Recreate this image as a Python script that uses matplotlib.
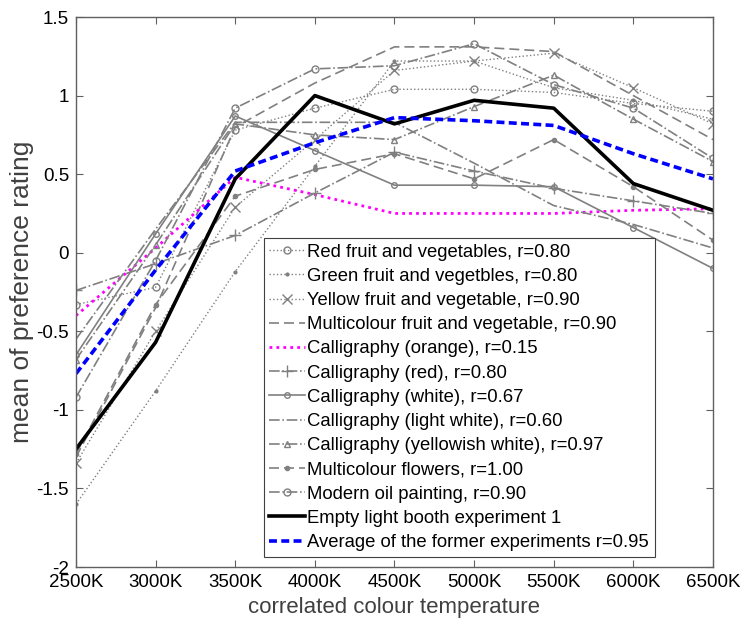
import matplotlib
matplotlib.use('Agg')
import matplotlib.pyplot as plt
import numpy as np

plt.rcParams['font.family'] = ['Liberation Sans', 'DejaVu Sans']

# colour temperatures (K)
cct = [2500, 3000, 3500, 4000, 4500, 5000, 5500, 6000, 6500]
tick_labels = ['2500K', '3000K', '3500K', '4000K', '4500K', '5000K', '5500K', '6000K', '6500K']

# mean preference ratings per experiment
red_fruit = [-0.33, -0.22, 0.78, 0.92, 1.04, 1.04, 1.02, 0.95, 0.90]
green_fruit = [-1.60, -0.88, -0.12, 0.55, 1.22, 1.22, 1.05, 0.97, 0.85]
yellow_fruit = [-1.34, -0.50, 0.29, 0.72, 1.16, 1.22, 1.27, 1.05, 0.82]
multi_fruit = [-1.30, -0.35, 0.80, 1.08, 1.31, 1.31, 1.28, 1.00, 0.72]
calli_orange = [-0.40, 0.03, 0.48, 0.37, 0.25, 0.25, 0.25, 0.27, 0.28]
calli_red = [-0.24, -0.07, 0.11, 0.38, 0.64, 0.52, 0.41, 0.33, 0.25]
calli_white = [-0.65, 0.12, 0.87, 0.65, 0.43, 0.43, 0.42, 0.16, -0.10]
calli_light = [-0.55, 0.15, 0.83, 0.83, 0.83, 0.57, 0.30, 0.18, 0.03]
calli_yellowish = [-0.68, 0.05, 0.82, 0.75, 0.72, 0.93, 1.13, 0.85, 0.58]
multi_flowers = [-1.28, -0.33, 0.36, 0.53, 0.63, 0.47, 0.72, 0.42, 0.08]
oil_painting = [-0.92, -0.05, 0.92, 1.17, 1.19, 1.33, 1.07, 0.92, 0.60]
empty_booth = [-1.25, -0.57, 0.47, 1.00, 0.82, 0.97, 0.92, 0.44, 0.27]
average = [-0.77, -0.11, 0.52, 0.70, 0.86, 0.84, 0.81, 0.63, 0.47]

gris = '#808080'

fig = plt.figure(figsize=(7.42, 6.19), dpi=100)
ax = fig.add_axes([0.1024, 0.084, 0.8585, 0.8885])

ax.plot(cct, red_fruit, ':', color=gris, lw=1, marker='o', ms=5, mfc='none',
        label='Red fruit and vegetables, r=0.80')
ax.plot(cct, green_fruit, ':', color=gris, lw=1, marker='.', ms=4,
        label='Green fruit and vegetbles, r=0.80')
ax.plot(cct, yellow_fruit, ':', color=gris, lw=1, marker='x', ms=7,
        label='Yellow fruit and vegetable, r=0.90')
ax.plot(cct, multi_fruit, '--', color=gris, lw=1.2, dashes=(6, 3),
        label='Multicolour fruit and vegetable, r=0.90')
ax.plot(cct, calli_orange, color='#ff00ff', lw=2, linestyle=(0, (1, 1.5)),
        label='Calligraphy (orange), r=0.15')
ax.plot(cct, calli_red, '-.', color=gris, lw=1.2, marker='+', ms=8,
        label='Calligraphy (red), r=0.80')
ax.plot(cct, calli_white, '-', color=gris, lw=1.2, marker='o', ms=4, mfc='none',
        label='Calligraphy (white), r=0.67')
ax.plot(cct, calli_light, '-.', color=gris, lw=1.2,
        label='Calligraphy (light white), r=0.60')
ax.plot(cct, calli_yellowish, '-.', color=gris, lw=1.2, marker='^', ms=5, mfc='none',
        label='Calligraphy (yellowish white), r=0.97')
ax.plot(cct, multi_flowers, '--', color=gris, lw=1.2, dashes=(6, 3), marker='.', ms=6,
        label='Multicolour flowers, r=1.00')
ax.plot(cct, oil_painting, '-.', color=gris, lw=1.2, marker='o', ms=5, mfc='none',
        label='Modern oil painting, r=0.90')
ax.plot(cct, empty_booth, '-', color='black', lw=2.6,
        label='Empty light booth experiment 1')
ax.plot(cct, average, '--', color='#0000ff', lw=2.6, dashes=(2.2, 1.2),
        label='Average of the former experiments r=0.95')

ax.set_xlim(2500, 6500)
ax.set_ylim(-2, 1.5)
ax.set_xticks(cct)
ax.set_xticklabels(tick_labels)
ax.set_yticks(np.arange(-2, 1.51, 0.5))
ax.set_yticklabels(['-2', '-1.5', '-1', '-0.5', '0', '0.5', '1', '1.5'])
ax.tick_params(direction='in', top=True, right=True, length=5, labelsize=13.5,
               color='#606060', pad=5)
for s in ax.spines.values():
    s.set_color('#606060')
    s.set_linewidth(1)

ax.set_xlabel('correlated colour temperature', fontsize=16, color='#404040', labelpad=4)
ax.set_ylabel('mean of preference rating', fontsize=19, color='#404040', labelpad=2)

leg = ax.legend(loc='upper left', bbox_to_anchor=(0.295, 0.598), borderaxespad=0,
                fontsize=13.3, handlelength=1.9, handletextpad=0.15, labelspacing=0.39,
                borderpad=0.3, fancybox=False, framealpha=1, edgecolor='#404040')
leg.get_frame().set_linewidth(0.8)

fig.savefig('out.png', dpi=100)
